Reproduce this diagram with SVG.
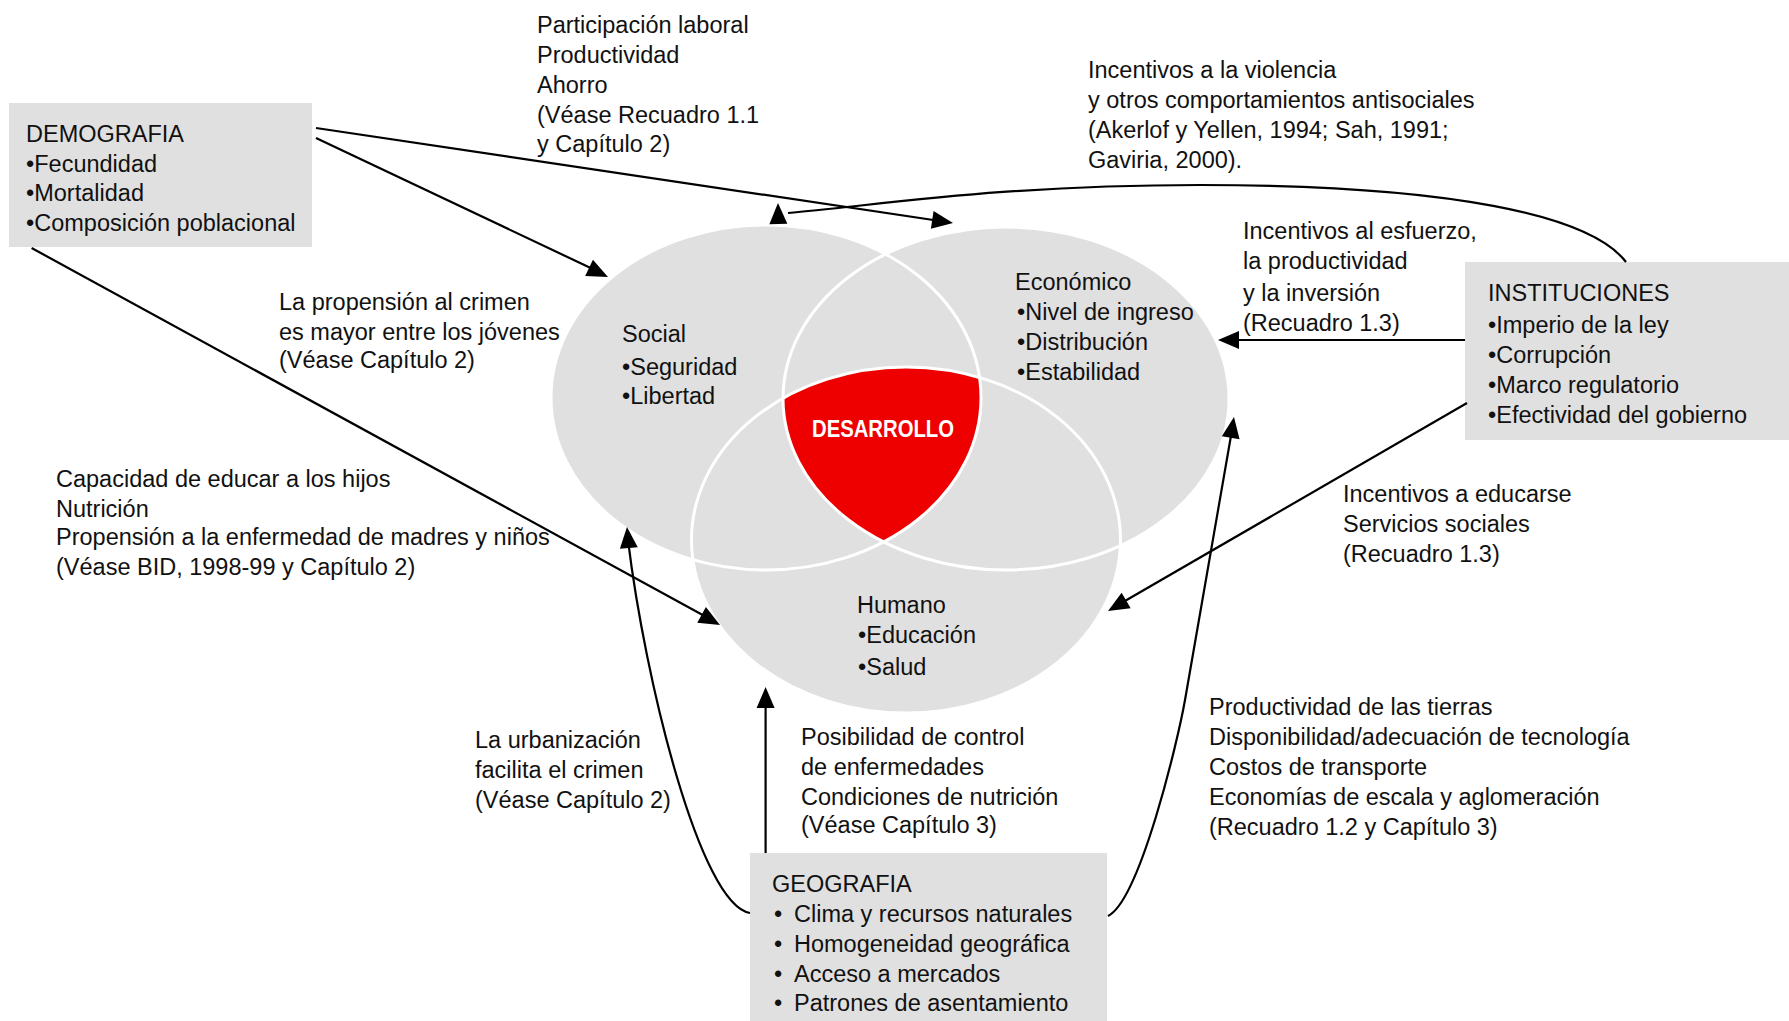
<svg xmlns="http://www.w3.org/2000/svg" xmlns:xlink="http://www.w3.org/1999/xlink" width="1789" height="1021" viewBox="0 0 1789 1021">
<style>
text{font-family:"Liberation Sans",Arial,sans-serif;font-size:23.5px;fill:#111}
.box{fill:#e0e0e0}
.circ{fill:#e0e0e0}
.ring{fill:none;stroke:#fff;stroke-width:3}
.ln{fill:none;stroke:#000;stroke-width:2.2}
.ah{fill:#000}
.dev{font-size:24px;font-weight:bold;fill:#fff}
</style>
<defs>
<path id="ah" d="M0,0 L-21,-9 L-21,9 Z"/>
<ellipse id="eS" cx="766" cy="397.5" rx="215" ry="172.5"/>
<ellipse id="eE" cx="1006" cy="398.5" rx="223" ry="171.5"/>
<ellipse id="eH" cx="906" cy="540" rx="214.5" ry="173"/>
<clipPath id="cS"><use xlink:href="#eS"/></clipPath>
<clipPath id="cE"><use xlink:href="#eE"/></clipPath>
</defs>
<rect width="1789" height="1021" fill="#fff"/>

<g id="venn">
<g id="social"><use xlink:href="#eS" class="circ"/></g>
<g id="economico"><use xlink:href="#eE" class="circ"/></g>
<g id="humano"><use xlink:href="#eH" class="circ"/></g>
<g id="desarrollo"><g clip-path="url(#cS)"><g clip-path="url(#cE)"><use xlink:href="#eH" fill="#ee0000"/></g></g></g>
<use xlink:href="#eS" class="ring"/>
<use xlink:href="#eE" class="ring"/>
<use xlink:href="#eH" class="ring"/>
<g id="social-text">
<text x="622" y="342">Social</text>
<text x="622" y="375">•Seguridad</text>
<text x="622" y="404">•Libertad</text>
</g>
<g id="economico-text">
<text x="1015" y="290">Económico</text>
<text x="1017" y="320">•Nivel de ingreso</text>
<text x="1017" y="350">•Distribución</text>
<text x="1017" y="380">•Estabilidad</text>
</g>
<g id="humano-text">
<text x="857" y="613">Humano</text>
<text x="858" y="643">•Educación</text>
<text x="858" y="675">•Salud</text>
</g>
<text class="dev" x="812" y="437" textLength="142" lengthAdjust="spacingAndGlyphs">DESARROLLO</text>
</g>

<g id="demografia">
<rect class="box" x="9" y="103" width="303" height="144"/>
<text x="26" y="142">DEMOGRAFIA</text>
<text x="26" y="172">•Fecundidad</text>
<text x="26" y="201">•Mortalidad</text>
<text x="26" y="231">•Composición poblacional</text>
</g>

<g id="instituciones">
<rect class="box" x="1465" y="262" width="324" height="178"/>
<text x="1488" y="301">INSTITUCIONES</text>
<text x="1488" y="333">•Imperio de la ley</text>
<text x="1488" y="363">•Corrupción</text>
<text x="1488" y="393">•Marco regulatorio</text>
<text x="1488" y="423">•Efectividad del gobierno</text>
</g>

<g id="geografia">
<rect class="box" x="750" y="853" width="357" height="168"/>
<text x="772" y="892">GEOGRAFIA</text>
<text y="922"><tspan x="774">•</tspan><tspan x="794">Clima y recursos naturales</tspan></text>
<text y="952"><tspan x="774">•</tspan><tspan x="794">Homogeneidad geográfica</tspan></text>
<text y="982"><tspan x="774">•</tspan><tspan x="794">Acceso a mercados</tspan></text>
<text y="1011"><tspan x="774">•</tspan><tspan x="794">Patrones de asentamiento</tspan></text>
</g>

<g id="connectors">
<line class="ln" x1="316" y1="128" x2="940" y2="221"/>
<use xlink:href="#ah" class="ah" transform="translate(953,223) rotate(8.5)"/>
<line class="ln" x1="316" y1="138" x2="597" y2="271"/>
<use xlink:href="#ah" class="ah" transform="translate(608,277) rotate(25.5)"/>
<line class="ln" x1="31.6" y1="248" x2="710" y2="619"/>
<use xlink:href="#ah" class="ah" transform="translate(720,625) rotate(28.7)"/>
<path class="ln" d="M1626,262 C1590,215 1450,185 1200,185 C1000,185 880,205 788,213"/>
<use xlink:href="#ah" class="ah" transform="translate(778,203) rotate(-91)"/>
<line class="ln" x1="1465" y1="340" x2="1232" y2="340"/>
<use xlink:href="#ah" class="ah" transform="translate(1218,340) rotate(180)"/>
<line class="ln" x1="1467" y1="403" x2="1118" y2="605"/>
<use xlink:href="#ah" class="ah" transform="translate(1108,611) rotate(149.8)"/>
<line class="ln" x1="765.6" y1="853" x2="765.6" y2="700"/>
<use xlink:href="#ah" class="ah" transform="translate(765.6,687) rotate(-90)"/>
<path class="ln" d="M750,913 C700,905 645,680 628,540"/>
<use xlink:href="#ah" class="ah" transform="translate(627,527) rotate(-95)"/>
<path class="ln" d="M1108,916 C1140,900 1178,740 1185,700 L1232,430"/>
<use xlink:href="#ah" class="ah" transform="translate(1234,417) rotate(-81)"/>
</g>

<g id="labels">
<text x="537" y="33">Participación laboral</text>
<text x="537" y="63">Productividad</text>
<text x="537" y="93">Ahorro</text>
<text x="537" y="123">(Véase Recuadro 1.1</text>
<text x="537" y="152">y Capítulo 2)</text>

<text x="1088" y="78">Incentivos a la violencia</text>
<text x="1088" y="108">y otros comportamientos antisociales</text>
<text x="1088" y="138">(Akerlof y Yellen, 1994; Sah, 1991;</text>
<text x="1088" y="168">Gaviria, 2000).</text>

<text x="1243" y="239">Incentivos al esfuerzo,</text>
<text x="1243" y="269">la productividad</text>
<text x="1243" y="301">y la inversión</text>
<text x="1243" y="331">(Recuadro 1.3)</text>

<text x="279" y="310">La propensión al crimen</text>
<text x="279" y="340">es mayor entre los jóvenes</text>
<text x="279" y="368">(Véase Capítulo 2)</text>

<text x="56" y="487">Capacidad de educar a los hijos</text>
<text x="56" y="517">Nutrición</text>
<text x="56" y="545">Propensión a la enfermedad de madres y niños</text>
<text x="56" y="575">(Véase BID, 1998-99 y Capítulo 2)</text>

<text x="1343" y="502">Incentivos a educarse</text>
<text x="1343" y="532">Servicios sociales</text>
<text x="1343" y="562">(Recuadro 1.3)</text>

<text x="475" y="748">La urbanización</text>
<text x="475" y="778">facilita el crimen</text>
<text x="475" y="808">(Véase Capítulo 2)</text>

<text x="801" y="745">Posibilidad de control</text>
<text x="801" y="775">de enfermedades</text>
<text x="801" y="805">Condiciones de nutrición</text>
<text x="801" y="833">(Véase Capítulo 3)</text>

<text x="1209" y="715">Productividad de las tierras</text>
<text x="1209" y="745">Disponibilidad/adecuación de tecnología</text>
<text x="1209" y="775">Costos de transporte</text>
<text x="1209" y="805">Economías de escala y aglomeración</text>
<text x="1209" y="835">(Recuadro 1.2 y Capítulo 3)</text>
</g>
</svg>
